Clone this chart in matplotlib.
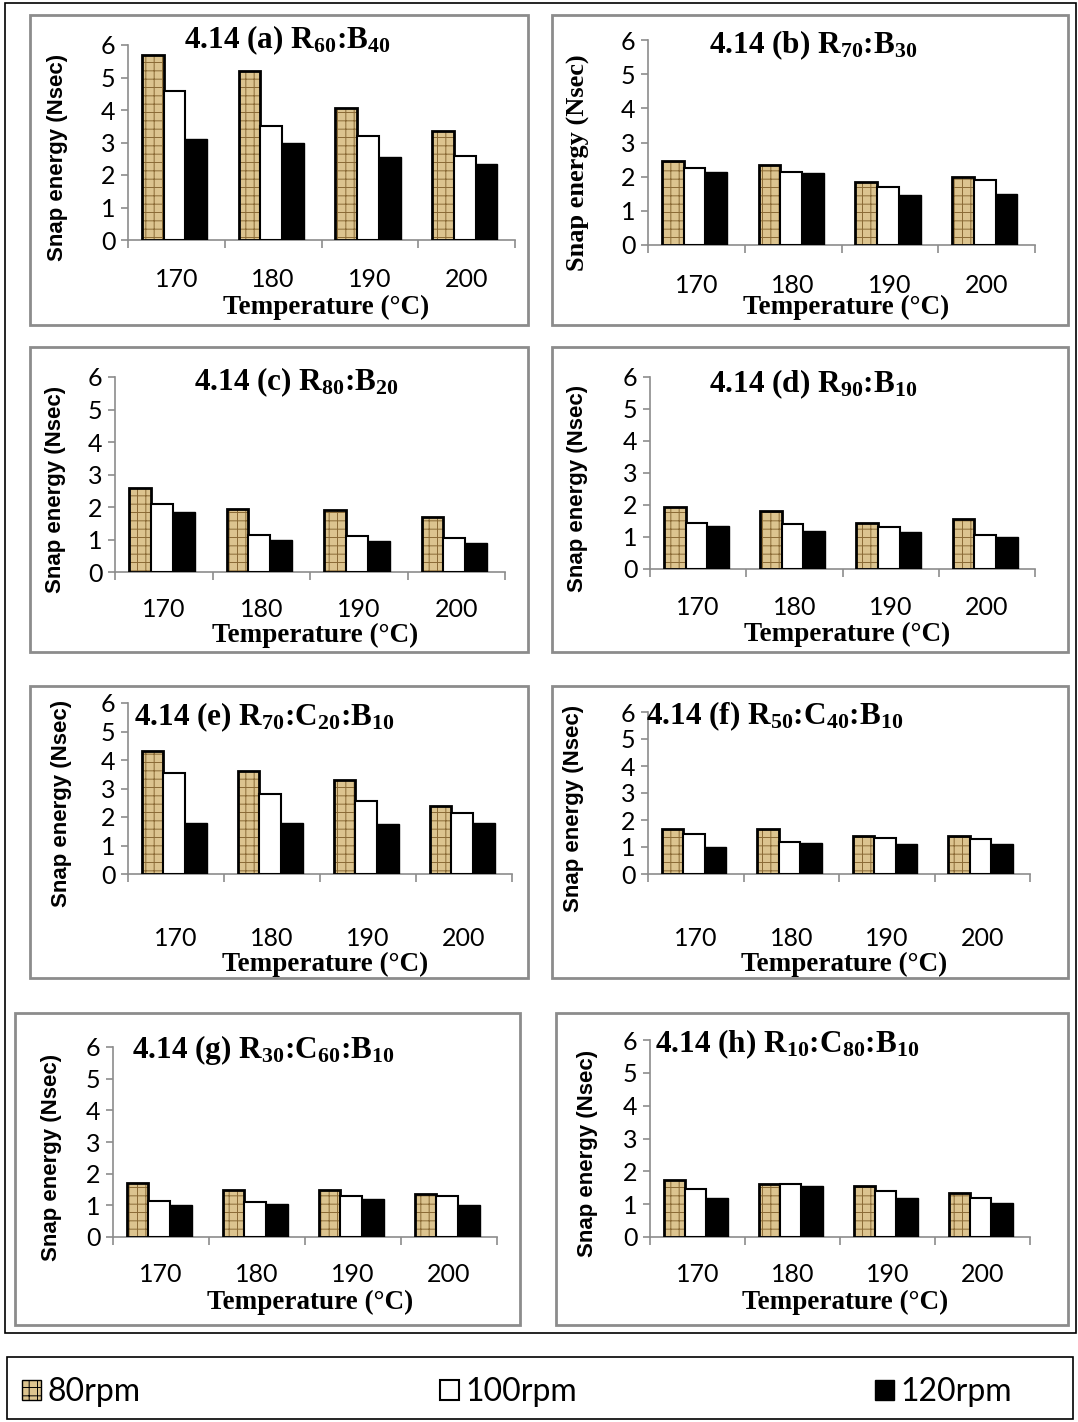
import matplotlib
matplotlib.use("Agg")
import matplotlib.pyplot as plt
from matplotlib.patches import Rectangle, Patch
import numpy as np

plt.rcParams['mathtext.fontset'] = 'custom'
plt.rcParams['mathtext.rm'] = 'Liberation Serif:bold'
plt.rcParams['mathtext.it'] = 'Liberation Serif:bold'
plt.rcParams['mathtext.bf'] = 'Liberation Serif:bold'
plt.rcParams['hatch.linewidth'] = 0.7

# data
temps = ['170', '180', '190', '200']
rpm_labels = ['80rpm', '100rpm', '120rpm']

snap_a = [[5.7, 5.2, 4.05, 3.35], [4.6, 3.5, 3.2, 2.6], [3.1, 3.0, 2.55, 2.35]]
snap_b = [[2.45, 2.35, 1.85, 2.0], [2.25, 2.15, 1.7, 1.9], [2.15, 2.1, 1.45, 1.5]]
snap_c = [[2.6, 1.95, 1.9, 1.7], [2.1, 1.15, 1.1, 1.05], [1.85, 1.0, 0.95, 0.9]]
snap_d = [[1.95, 1.8, 1.45, 1.55], [1.45, 1.4, 1.3, 1.05], [1.35, 1.2, 1.15, 1.0]]
snap_e = [[4.3, 3.6, 3.3, 2.4], [3.55, 2.8, 2.55, 2.15], [1.8, 1.8, 1.75, 1.8]]
snap_f = [[1.65, 1.65, 1.4, 1.4], [1.5, 1.2, 1.35, 1.3], [1.0, 1.15, 1.1, 1.1]]
snap_g = [[1.7, 1.5, 1.5, 1.35], [1.15, 1.1, 1.3, 1.3], [1.0, 1.05, 1.2, 1.0]]
snap_h = [[1.75, 1.6, 1.55, 1.35], [1.45, 1.6, 1.4, 1.2], [1.2, 1.55, 1.2, 1.05]]

titles = [r'4.14 (a) R$_{60}$:B$_{40}$', r'4.14 (b) R$_{70}$:B$_{30}$',
          r'4.14 (c) R$_{80}$:B$_{20}$', r'4.14 (d) R$_{90}$:B$_{10}$',
          r'4.14 (e) R$_{70}$:C$_{20}$:B$_{10}$', r'4.14 (f) R$_{50}$:C$_{40}$:B$_{10}$',
          r'4.14 (g) R$_{30}$:C$_{60}$:B$_{10}$', r'4.14 (h) R$_{10}$:C$_{80}$:B$_{10}$']
datasets = [snap_a, snap_b, snap_c, snap_d, snap_e, snap_f, snap_g, snap_h]

W, H = 1078, 1422
fig = plt.figure(figsize=(W / 100, H / 100), dpi=100)


def fx(x):
    return x / W


def fy(y):
    return 1 - y / H


def box(x0, y0, x1, y1, color, lw):
    fig.add_artist(Rectangle((fx(x0), fy(y1)), (x1 - x0) / W, (y1 - y0) / H,
                             transform=fig.transFigure, fill=False,
                             edgecolor=color, linewidth=lw))


# outer frame and legend frame
box(5, 3, 1076, 1333, 'black', 1.2)
box(7, 1357, 1073, 1419, 'black', 1.2)

# layout in pixels: panel box, axes (left, right, top=6, bottom=0), title centre,
# y-label x, tick label top, x-label centre y
layout = [
    ((30, 15, 528, 325), (128, 515, 45, 240), (287, 40), 57, 268, 307),
    ((552, 15, 1068, 325), (648, 1035, 40, 245), (813, 45), 578, 274, 307),
    ((30, 347, 528, 652), (115, 505, 377, 572), (297, 382), 55, 598, 635),
    ((552, 347, 1068, 652), (650, 1035, 377, 569), (813, 384), 577, 596, 634),
    ((30, 686, 528, 978), (128, 512, 703, 874), (264, 717), 62, 927, 964),
    ((552, 686, 1068, 978), (648, 1030, 712, 874), (775, 716), 573, 927, 964),
    ((15, 1013, 520, 1325), (113, 497, 1047, 1237), (263, 1050), 52, 1263, 1302),
    ((556, 1013, 1068, 1325), (650, 1030, 1040, 1237), (787, 1044), 587, 1263, 1302),
]

tan = '#dcc48f'
hatch_col = '#8a6a35'
gray = '#8c8c8c'
bw = 0.225
offsets = [0.2565, 0.4815, 0.7065]
x = np.arange(4)

for i, (data, lay) in enumerate(zip(datasets, layout)):
    (bx0, by0, bx1, by1), (L, R, T, B), (tx, ty), ylx, tick_top, xly = lay
    box(bx0, by0, bx1, by1, gray, 2.0)
    ax = fig.add_axes([fx(L), fy(B), (R - L) / W, (B - T) / H])
    ax.patch.set_alpha(0)
    ax.set_xlim(0, 4)
    ax.set_ylim(0, 6)

    # 80rpm: textured tan
    ax.bar(x + offsets[0], data[0], bw, color=tan, edgecolor=hatch_col,
           hatch='++', linewidth=0, zorder=2)
    ax.bar(x + offsets[0], data[0], bw, fill=False, edgecolor='black',
           linewidth=2.0, zorder=3)
    ax.bar(x + offsets[1], data[1], bw, color='white', edgecolor='black',
           linewidth=1.5, zorder=3)
    ax.bar(x + offsets[2], data[2], bw, color='black', edgecolor='black',
           linewidth=1.0, zorder=3)

    for s in ['top', 'right']:
        ax.spines[s].set_visible(False)
    for s in ['left', 'bottom']:
        ax.spines[s].set_color(gray)
        ax.spines[s].set_linewidth(1.2)

    ax.set_yticks(range(7))
    ax.tick_params(axis='y', length=5, color=gray, width=1.2, labelsize=18, pad=4)
    for lab in ax.get_yticklabels():
        lab.set_family('Lato')

    ax.set_xticks(range(5))
    ax.set_xticklabels([])
    ax.tick_params(axis='x', which='major', direction='out', length=6,
                   color=gray, width=1.2)
    ax.set_xticks(x + 0.5, minor=True)
    ax.set_xticklabels(temps, minor=True, fontsize=18, family='Lato')
    ax.tick_params(axis='x', which='minor', length=0,
                   pad=(tick_top - B) * 0.72)

    fig.text(fx(tx), fy(ty), titles[i], ha='center', va='center',
             family='Liberation Serif', weight='bold', fontsize=22.5)
    fig.text(fx((L + R) / 2 + 5), fy(xly), 'Temperature (°C)', ha='center',
             va='center', family='Liberation Serif', weight='bold', fontsize=19.5)
    if i == 1:
        fig.text(fx(ylx), fy((T + B) / 2 + 20), 'Snap energy (Nsec)', rotation=90,
                 ha='center', va='center', family='Liberation Serif',
                 weight='bold', fontsize=19)
    else:
        fig.text(fx(ylx), fy((T + B) / 2 + 15), 'Snap energy (Nsec)', rotation=90,
                 ha='center', va='center', family='Liberation Sans', weight='bold',
                 fontsize=16)

# legend
handles = [Patch(facecolor=tan, edgecolor='black', hatch='++'),
           Patch(facecolor='white', edgecolor='black', linewidth=1.5),
           Patch(facecolor='black', edgecolor='black')]
leg_x = [22, 440, 875]
for h, lab, lx in zip(handles, rpm_labels, leg_x):
    fig.legend([h], [lab], loc='center left', bbox_to_anchor=(fx(lx), fy(1392)),
               frameon=False, handlelength=0.6, handleheight=0.6,
               handletextpad=0.2, borderpad=0, borderaxespad=0,
               prop={'family': 'Lato', 'size': 23})

fig.savefig('out.png', dpi=100)
